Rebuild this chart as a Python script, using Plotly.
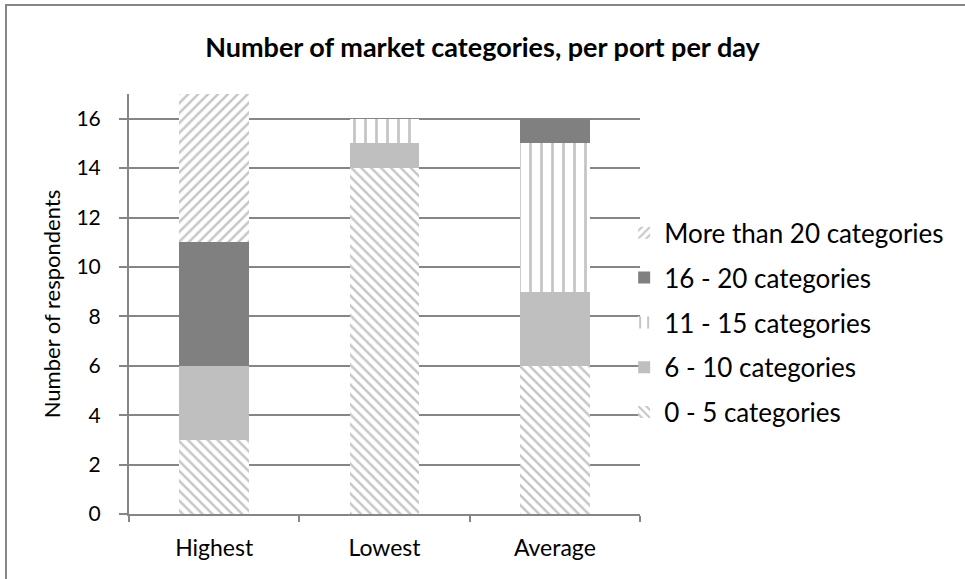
import plotly.graph_objects as go

categories = ["Highest", "Lowest", "Average"]
series_names = ["0 - 5 categories", "6 - 10 categories", "11 - 15 categories",
                "16 - 20 categories", "More than 20 categories"]
v_0_5 = [3, 14, 6]
v_6_10 = [3, 1, 3]
v_11_15 = [0, 1, 6]
v_16_20 = [5, 0, 1]
v_20plus = [6, 0, 0]
y_ticks = [0, 2, 4, 6, 8, 10, 12, 14, 16]

values = [v_0_5, v_6_10, v_11_15, v_16_20, v_20plus]
styles = [
    dict(color="white", pattern=dict(shape="\\", fgcolor="#8c8c8c", bgcolor="white", size=7, solidity=0.35)),
    dict(color="#bfbfbf"),
    dict(color="white", pattern=dict(shape="|", fgcolor="#8c8c8c", bgcolor="white", size=11, solidity=0.25)),
    dict(color="#808080"),
    dict(color="white", pattern=dict(shape="/", fgcolor="#8c8c8c", bgcolor="white", size=7, solidity=0.35)),
]

FONT = "Lato, Open Sans, sans-serif"
fig = go.Figure()
n = len(series_names)
for i, (name, vals, st) in enumerate(zip(series_names, values, styles)):
    fig.add_trace(go.Bar(x=categories, y=vals, name=name, legendgroup=name,
                         legendrank=n - i,
                         marker=dict(line=dict(width=0), **st)))

fig.update_layout(
    barmode="stack",
    bargap=0.59,
    width=965, height=579,
    margin=dict(l=129, r=325, t=94, b=65),
    paper_bgcolor="white", plot_bgcolor="white",
    font=dict(family=FONT, size=22, color="black"),
    title=dict(text="<b>Number of market categories, per port per day</b>",
               x=0.5, xref="container", xanchor="center", y=0.918, yanchor="middle",
               font=dict(size=27, family=FONT)),
    legend=dict(traceorder="grouped", tracegroupgap=8, x=0.969, xanchor="left",
                y=0.455, yanchor="middle", font=dict(size=26, family=FONT),
                bgcolor="rgba(0,0,0,0)"),
    showlegend=True,
)
fig.update_xaxes(showline=True, linecolor="#868686", linewidth=2,
                 ticks="outside", tickson="boundaries", ticklen=6, tickcolor="#868686",
                 tickwidth=2, showgrid=False, tickfont=dict(size=23), ticklabelstandoff=12)
fig.update_yaxes(range=[0, 17], tickvals=y_ticks, showline=True, linecolor="#868686",
                 linewidth=2, ticks="outside", ticklen=8, tickcolor="#868686", tickwidth=2,
                 showgrid=True, gridcolor="#868686", gridwidth=2, zeroline=False,
                 tickfont=dict(size=21), ticklabelstandoff=14,
                 title=dict(text="Number of respondents", font=dict(size=22), standoff=10))

fig.add_shape(type="rect", xref="paper", yref="paper",
              x0=(6 - 129) / 511, x1=2.5, y0=(514 - 5) / 420, y1=-1,
              line=dict(color="#868686", width=2), fillcolor="rgba(0,0,0,0)", layer="below")

fig.write_html("out.html")
